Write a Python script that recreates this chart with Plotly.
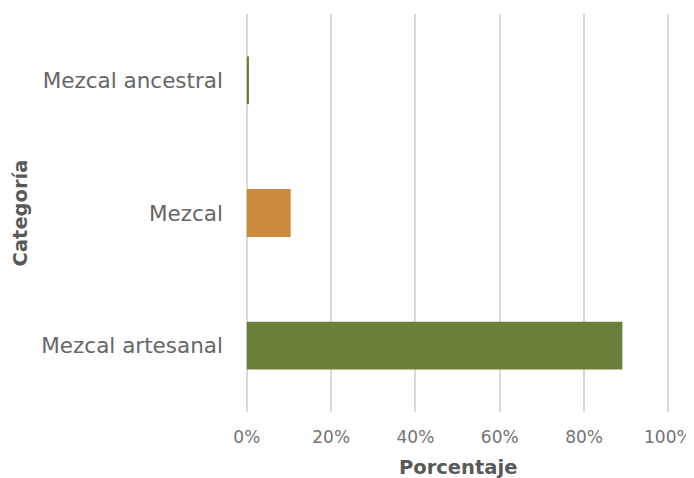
import plotly.graph_objects as go

categorias = ["Mezcal artesanal", "Mezcal", "Mezcal ancestral"]
porcentajes = [0.891, 0.104, 0.005]
colores = ["#6a7f3a", "#cb8a3c", "#6a7f3a"]
ticks = [0, 0.2, 0.4, 0.6, 0.8, 1.0]
tick_labels = ["0%", "20%", "40%", "60%", "80%", "100%"]

fig = go.Figure(go.Bar(
    x=porcentajes, y=categorias, orientation="h",
    marker=dict(color=colores, line=dict(width=0)),
    width=0.36,
))

# the page body adds an 8px margin, so the figure is offset to fit the window
fig.update_layout(
    width=686, height=470,
    margin=dict(l=238, r=24, t=6, b=66),
    plot_bgcolor="white", paper_bgcolor="white",
    font=dict(family="DejaVu Sans, sans-serif", size=18, color="#666666"),
    showlegend=False,
)
fig.update_xaxes(
    range=[-0.002, 1.004], tickvals=ticks, ticktext=tick_labels,
    showgrid=True, gridcolor="#d9d9d9", gridwidth=1.5,
    zeroline=True, zerolinecolor="#d9d9d9", zerolinewidth=1.5,
    showline=False, ticks="outside", ticklen=4, tickcolor="rgba(0,0,0,0)",
    automargin=False, ticklabelstandoff=6,
    tickfont=dict(size=17, color="#737373"),
)
fig.update_yaxes(
    showgrid=False, zeroline=False, showline=False, ticks="",
    ticklabelstandoff=22, automargin=False,
    title=dict(text="<b>Categoría</b>", font=dict(size=19.5, color="#595959"), standoff=8),
    tickfont=dict(size=21.5, color="#666666"),
)
fig.add_annotation(
    text="<b>Porcentaje</b>", xref="paper", yref="paper", x=0.5, y=0,
    xanchor="center", yanchor="middle", yshift=-55, showarrow=False,
    font=dict(size=19.5, color="#595959"),
)

fig.write_html("out.html")
